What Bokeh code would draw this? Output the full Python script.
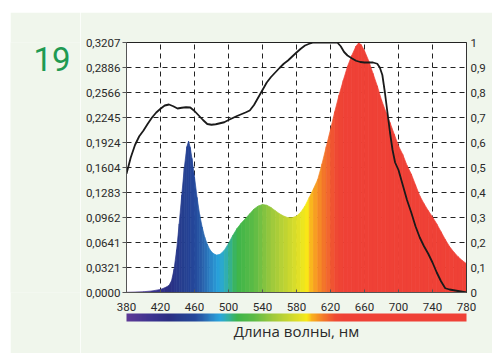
from bokeh.plotting import figure
from bokeh.models import (Range1d, LinearAxis, FixedTicker, CustomJSTickFormatter, ColorBar,
                          LinearColorMapper, Title, Spacer)
from bokeh.layouts import row, column
from bokeh.core.properties import value
from bokeh.embed import file_html
from bokeh.resources import INLINE

# ---------------- data ----------------
wavelength = [380, 390, 400, 410, 420, 425, 430, 433, 436, 439, 442, 445, 448, 451, 453, 455, 457,
              460, 463, 466, 469, 472, 475, 478, 482, 486, 490, 495, 500, 505, 510, 515, 520, 525,
              530, 535, 540, 545, 550, 555, 560, 565, 570, 575, 580, 585, 590, 595, 600, 605, 610,
              615, 620, 625, 630, 635, 640, 645, 650, 653, 656, 660, 665, 670, 675, 680, 685, 690,
              695, 700, 705, 710, 715, 720, 725, 730, 735, 740, 745, 750, 755, 760, 765, 770, 775, 780]
power = [0.0003, 0.0006, 0.001, 0.002, 0.004, 0.006, 0.009, 0.015, 0.030, 0.055, 0.088, 0.125,
         0.160, 0.187, 0.194, 0.186, 0.172, 0.148, 0.122, 0.100, 0.084, 0.071, 0.062, 0.055,
         0.050, 0.048, 0.049, 0.054, 0.063, 0.073, 0.082, 0.089, 0.095, 0.101, 0.107, 0.111,
         0.113, 0.112, 0.109, 0.105, 0.101, 0.098, 0.096, 0.096, 0.098, 0.103, 0.111, 0.122,
         0.133, 0.145, 0.165, 0.187, 0.209, 0.232, 0.253, 0.272, 0.290, 0.304, 0.316, 0.320,
         0.318, 0.310, 0.297, 0.281, 0.265, 0.247, 0.232, 0.218, 0.203, 0.188, 0.177, 0.163,
         0.152, 0.138, 0.124, 0.114, 0.105, 0.097, 0.088, 0.078, 0.068, 0.059, 0.052, 0.046,
         0.041, 0.037]

rel_wavelength = [380, 385, 390, 395, 400, 405, 410, 415, 420, 425, 430, 435, 440, 445, 450, 455,
                  460, 465, 470, 475, 480, 485, 490, 495, 500, 505, 510, 515, 520, 525, 530, 535,
                  540, 545, 550, 555, 560, 565, 570, 575, 580, 585, 590, 595, 600, 605, 610, 615,
                  620, 625, 628, 632, 636, 640, 645, 650, 655, 660, 665, 670, 675, 678, 681, 684,
                  687, 690, 693, 696, 700, 705, 710, 715, 720, 725, 730, 735, 740, 745, 750, 755,
                  760, 765, 770, 775, 780]
rel_value = [0.475, 0.54, 0.59, 0.625, 0.648, 0.675, 0.70, 0.72, 0.735, 0.748, 0.752, 0.745,
             0.736, 0.739, 0.741, 0.740, 0.726, 0.708, 0.69, 0.674, 0.671, 0.673, 0.677, 0.681,
             0.69, 0.698, 0.706, 0.713, 0.72, 0.728, 0.75, 0.78, 0.81, 0.84, 0.862, 0.88, 0.898,
             0.915, 0.928, 0.944, 0.96, 0.975, 0.988, 0.995, 1.0, 1.0, 1.0, 1.0, 1.0, 1.0, 1.0,
             0.985, 0.962, 0.948, 0.937, 0.927, 0.922, 0.92, 0.92, 0.92, 0.915, 0.90, 0.87, 0.80,
             0.72, 0.64, 0.57, 0.52, 0.49, 0.43, 0.37, 0.32, 0.265, 0.22, 0.185, 0.155, 0.12,
             0.08, 0.045, 0.017, 0.012, 0.009, 0.006, 0.003, 0.0]

x_ticks = [380, 420, 460, 500, 540, 580, 620, 660, 700, 740, 780]
left_ticks = [0.0, 0.03207, 0.06414, 0.09621, 0.12828, 0.16035, 0.19242, 0.22449, 0.25656,
              0.28863, 0.3207]
left_labels = ["0,0000", "0,0321", "0,0641", "0,0962", "0,1283", "0,1604", "0,1924", "0,2245",
               "0,2566", "0,2886", "0,3207"]
right_ticks = [0.0, 0.1, 0.2, 0.3, 0.4, 0.5, 0.6, 0.7, 0.8, 0.9, 1.0]
right_labels = ["0", "0,1", "0,2", "0,3", "0,4", "0,5", "0,6", "0,7", "0,8", "0,9", "1"]
x_title = "Длина волны, нм"
badge = "19"

# ---------------- styling ----------------
PANEL = "#f0f6ec"
TXT = "#2a2a2a"
TICKFONT = "Roboto"
TICKSIZE = "11.5px"

stops = [(380, "#5e3a96"), (410, "#3b338f"), (430, "#2b2e83"), (445, "#263e8f"), (460, "#24479a"),
         (470, "#2a62ad"), (480, "#2a86c8"), (490, "#28a6de"), (500, "#33b0a0"), (510, "#3cb54a"),
         (530, "#5cbb46"), (550, "#9ac83d"), (570, "#c6d631"), (585, "#e6e225"), (592, "#f8ec17"),
         (598, "#f9b11e"), (610, "#f47f28"), (625, "#ef4c33"), (635, "#ef4136"), (780, "#ef4136")]


def spectral_color(w):
    for (w0, c0), (w1, c1) in zip(stops[:-1], stops[1:]):
        if w0 <= w <= w1:
            t = (w - w0) / (w1 - w0) if w1 > w0 else 0
            a = [int(c0[i:i + 2], 16) for i in (1, 3, 5)]
            b = [int(c1[i:i + 2], 16) for i in (1, 3, 5)]
            r = [round(a[k] + (b[k] - a[k]) * t) for k in range(3)]
            return "#%02x%02x%02x" % tuple(r)
    return stops[-1][1]


LOOKUP = """
let i = 0, b = 1e9;
for (let k = 0; k < tv.length; k++) { const d = Math.abs(tv[k] - tick); if (d < b) { b = d; i = k; } }
return labs[i];
"""

# ---------------- badge panel ----------------
BW, H = 70, 341
bp = figure(width=BW, height=H, x_range=Range1d(0, BW), y_range=Range1d(H, 0), title=None,
            output_backend="svg", toolbar_location=None, min_border=0,
            background_fill_color=PANEL, border_fill_color=PANEL, outline_line_color=None)
bp.axis.visible = False
bp.grid.visible = False
bp.text(x=[23], y=[22], text=[badge], text_font=value("Roboto"), text_font_size="33px",
        text_color="#1f9a52", text_baseline="alphabetic", text_align="left")

# ---------------- main chart ----------------
p = figure(width=482 - BW, height=H, x_range=Range1d(380, 780), y_range=Range1d(0, 0.3207),
           output_backend="svg", toolbar_location=None,
           min_border_left=46, min_border_right=26, min_border_top=30, min_border_bottom=61,
           background_fill_color="white", border_fill_color=PANEL,
           outline_line_color="#222222", outline_line_width=1)

# spectrum fill
xs, ys, cols = [], [], []
for i in range(len(wavelength) - 1):
    w0, w1 = wavelength[i], wavelength[i + 1]
    xs.append([w0, w1, w1, w0])
    ys.append([0, 0, power[i + 1], power[i]])
    cols.append(spectral_color((w0 + w1) / 2))
p.patches(xs, ys, fill_color=cols, line_color=cols, line_width=0.7)

# relative curve
p.extra_y_ranges = {"rel": Range1d(0, 1)}
p.line(rel_wavelength, rel_value, y_range_name="rel", line_color="#1a1a1a", line_width=1.8)

# x axis
xa = p.xaxis[0]
xa.ticker = FixedTicker(ticks=x_ticks)
xa.major_tick_in = 3
xa.major_tick_out = 0
xa.minor_tick_line_color = None
xa.axis_line_color = "#555555"
xa.major_tick_line_color = "#555555"
xa.major_label_text_font = TICKFONT
xa.major_label_text_font_size = TICKSIZE
xa.major_label_text_color = TXT
xa.major_label_standoff = 10

# left axis
ya = p.yaxis[0]
ya.ticker = FixedTicker(ticks=left_ticks)
ya.formatter = CustomJSTickFormatter(args=dict(labs=left_labels, tv=left_ticks), code=LOOKUP)
ya.major_tick_in = 0
ya.major_tick_out = 4
ya.minor_tick_line_color = None
ya.axis_line_color = "#555555"
ya.major_tick_line_color = "#555555"
ya.major_label_text_font = TICKFONT
ya.major_label_text_font_size = TICKSIZE
ya.major_label_text_color = TXT
ya.major_label_standoff = 2

# right axis
ra = LinearAxis(y_range_name="rel", ticker=FixedTicker(ticks=right_ticks),
                formatter=CustomJSTickFormatter(args=dict(labs=right_labels, tv=right_ticks),
                                                code=LOOKUP))
ra.major_tick_in = 0
ra.major_tick_out = 0
ra.minor_tick_line_color = None
ra.axis_line_color = "#333333"
ra.major_label_text_font = TICKFONT
ra.major_label_text_font_size = TICKSIZE
ra.major_label_text_color = TXT
ra.major_label_standoff = 4
p.add_layout(ra, "right")

# grids
p.xgrid.ticker = FixedTicker(ticks=x_ticks[1:-1])
p.ygrid.ticker = FixedTicker(ticks=left_ticks[1:-1])
for g in (p.xgrid[0], p.ygrid[0]):
    g.grid_line_color = "#222222"
    g.grid_line_dash = "5 4"
    g.grid_line_width = 1

# spectrum bar below the axis
bar_palette = [spectral_color(w + 0.5) for w in range(380, 780)]
mapper = LinearColorMapper(palette=bar_palette, low=380, high=780)
cb = ColorBar(color_mapper=mapper, orientation="horizontal", height=8, padding=0, margin=7,
              ticker=FixedTicker(ticks=[]), major_label_text_font_size="0px",
              major_tick_line_color=None, minor_tick_line_color=None, bar_line_color=None,
              background_fill_alpha=0, border_line_color=None, label_standoff=0)
p.add_layout(cb, "below")

t = Title(text=x_title, align="center", text_font="Open Sans", text_font_size="15px",
          text_font_style="normal", text_color=TXT, standoff=-6)
p.add_layout(t, "below")

layout = column(Spacer(height=12), row(Spacer(width=10), bp, p))
open("out.html", "w").write(file_html(layout, INLINE))
